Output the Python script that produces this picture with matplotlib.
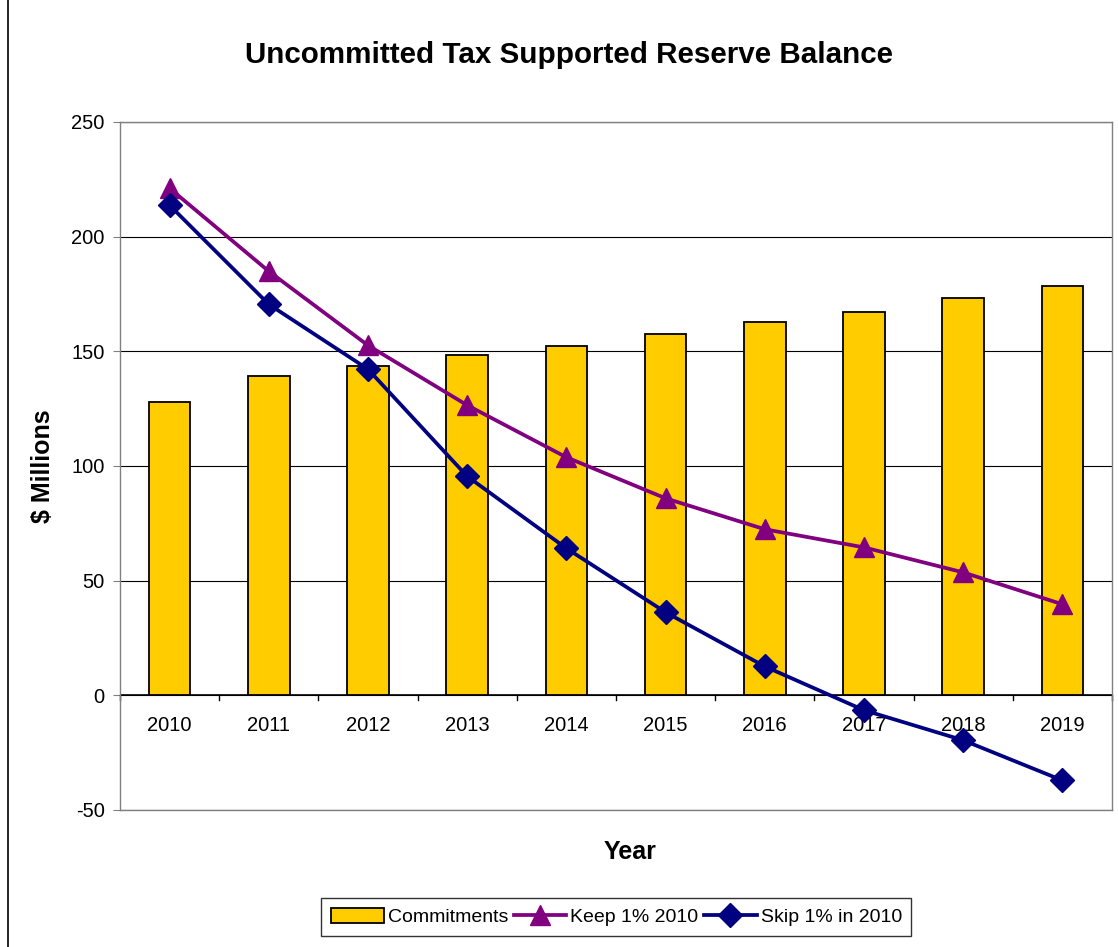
import numpy as np
import matplotlib.pyplot as plt
from matplotlib.patches import Rectangle

plt.rcParams['font.family'] = ['Liberation Sans', 'DejaVu Sans']

years = ['2010', '2011', '2012', '2013', '2014', '2015', '2016', '2017', '2018', '2019']
commitments = [127.8, 139.1, 143.5, 148.3, 152.2, 157.4, 162.7, 167.0, 173.1, 178.4]
keep_1pct = [221.1, 184.9, 152.6, 126.5, 103.8, 85.9, 72.4, 64.5, 53.6, 39.7]
skip_1pct = [213.7, 170.5, 142.2, 95.5, 64.1, 36.2, 12.6, -6.5, -19.6, -37.1]

fig = plt.figure(figsize=(11.18, 9.47), dpi=100)
ax = fig.add_axes([0.1073, 0.1447, 0.8873, 0.7265])

x = np.arange(len(years))

bars = ax.bar(x, commitments, width=0.42, color='#FFCC00', edgecolor='black', linewidth=1.3,
              zorder=2, label='Commitments')
l1, = ax.plot(x, keep_1pct, color='#800080', linewidth=2.7, marker='^', markersize=15, zorder=3,
              label='Keep 1% 2010')
l2, = ax.plot(x, skip_1pct, color='#000080', linewidth=2.7, marker='D', markersize=12, zorder=4,
              label='Skip 1% in 2010')

ax.set_xlim(-0.5, len(years) - 0.5)
ax.set_ylim(-50, 250)
ax.set_yticks(np.arange(-50, 251, 50))
ax.set_yticklabels([str(v) for v in range(-50, 251, 50)])
ax.yaxis.grid(True, color='black', linewidth=0.8, zorder=0)
ax.set_axisbelow(True)
ax.tick_params(axis='y', labelsize=14.5, length=5, color='gray', pad=6)

# category axis drawn at zero, labels below it
ax.set_xticks([])
ax.axhline(0, color='black', linewidth=1.2, zorder=1)
for b in np.arange(-0.5, len(years) - 0.4, 1.0):
    ax.plot([b, b], [0, -2.2], color='black', linewidth=1, clip_on=False, zorder=1)
for xi, lab in zip(x, years):
    ax.text(xi, -13, lab, ha='center', va='center', fontsize=14.5)

for s in ax.spines.values():
    s.set_color('gray')
    s.set_linewidth(1)

ax.set_ylabel('$ Millions', fontsize=18, fontweight='bold', labelpad=12)
fig.text(0.564, 0.1, 'Year', ha='center', va='center', fontsize=18, fontweight='bold')
fig.text(0.509, 0.942, 'Uncommitted Tax Supported Reserve Balance', ha='center', va='center',
         fontsize=21.3, fontweight='bold')

leg = fig.legend([bars, l1, l2], ['Commitments', 'Keep 1% 2010', 'Skip 1% in 2010'],
                 loc='center', bbox_to_anchor=(0.5514, 0.0317), ncol=3, fontsize=14,
                 frameon=True, fancybox=False, edgecolor='black', handlelength=2.7,
                 handleheight=0.8, handletextpad=0.2, columnspacing=0.3, borderpad=0.5)
leg.get_frame().set_linewidth(1)

# outer chart border
fig.patches.append(Rectangle((0.007, -0.01), 1.2, 1.2, transform=fig.transFigure,
                             fill=False, edgecolor='black', linewidth=1.2))

fig.savefig('out.png', dpi=100)
